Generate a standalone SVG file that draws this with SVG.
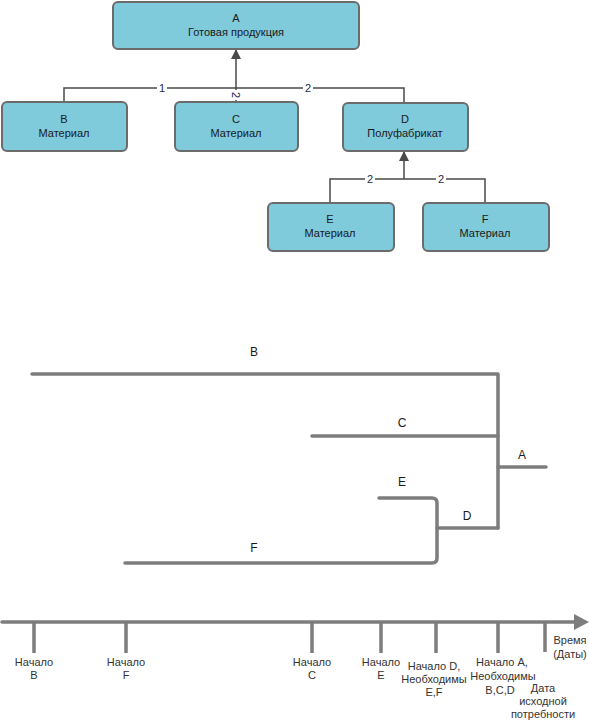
<svg xmlns="http://www.w3.org/2000/svg" width="589" height="720" viewBox="0 0 589 720">
<defs>
<style>
.box{fill:#7fcadb;stroke:#6b6b6b;stroke-width:2}
.nt{font-family:"Liberation Sans",Arial,sans-serif;font-size:11px;fill:#1a1a1a;text-anchor:middle}
.conn{stroke:#4a4a4a;stroke-width:1.5;fill:none}
.num{font-family:"Liberation Sans",Arial,sans-serif;font-size:11px;fill:#1b2a4a;text-anchor:middle}
.gl{stroke:#7d7d7d;stroke-width:3.5;fill:none;stroke-linecap:round;stroke-linejoin:round}
.gt{font-family:"Liberation Sans",Arial,sans-serif;font-size:12px;fill:#1a1a1a;text-anchor:middle}
.tl{font-family:"Liberation Sans",Arial,sans-serif;font-size:11px;fill:#333;text-anchor:middle}
</style>
<marker id="arr" markerWidth="10" markerHeight="10" refX="9" refY="5" orient="auto" markerUnits="userSpaceOnUse">
<path d="M0,0 L10,5 L0,10 z" fill="#4a4a4a"/>
</marker>
</defs>
<rect width="589" height="720" fill="#fff"/>
<g id="connectors">
<path class="conn" d="M64,102 V88 H404 V102"/>
<path class="conn" d="M236,102 V50" marker-end="url(#arr)"/>
<path class="conn" d="M330,203 V179 H485 V203"/>
<path class="conn" d="M404,179 V152" marker-end="url(#arr)"/>
<rect x="157" y="82" width="10" height="12" fill="#fff"/>
<text class="num" x="162" y="92">1</text>
<rect x="303" y="82" width="10" height="12" fill="#fff"/>
<text class="num" x="308" y="92">2</text>
<rect x="231" y="90" width="10" height="10" fill="#fff"/>
<text class="num" transform="translate(232,95) rotate(90)" x="0" y="0">2</text>
<rect x="365" y="173" width="10" height="12" fill="#fff"/>
<text class="num" x="370" y="183">2</text>
<rect x="436" y="173" width="10" height="12" fill="#fff"/>
<text class="num" x="441" y="183">2</text>
</g>
<g id="nodeA"><rect class="box" x="113" y="2" width="246" height="47" rx="5"/><text class="nt" x="236" y="22">A</text><text class="nt" x="236" y="36">Готовая продукция</text></g>
<g id="nodeB"><rect class="box" x="2" y="102" width="125" height="49" rx="5"/><text class="nt" x="64" y="123">B</text><text class="nt" x="64" y="137">Материал</text></g>
<g id="nodeC"><rect class="box" x="175" y="102" width="123" height="49" rx="5"/><text class="nt" x="236" y="123">C</text><text class="nt" x="236" y="137">Материал</text></g>
<g id="nodeD"><rect class="box" x="343" y="103" width="125" height="48" rx="5"/><text class="nt" x="405" y="123">D</text><text class="nt" x="405" y="137">Полуфабрикат</text></g>
<g id="nodeE"><rect class="box" x="268" y="203" width="126" height="48" rx="5"/><text class="nt" x="330" y="223">E</text><text class="nt" x="330" y="237">Материал</text></g>
<g id="nodeF"><rect class="box" x="423" y="203" width="126" height="48" rx="5"/><text class="nt" x="485" y="223">F</text><text class="nt" x="485" y="237">Материал</text></g>
<g id="gantt">
<path class="gl" d="M32,374 H498 V528"/>
<path class="gl" d="M312,436 H498"/>
<path class="gl" d="M498,467 H546"/>
<path class="gl" d="M437,528 H498"/>
<path class="gl" d="M379,498 H432 Q437,498 437,503 V558 Q437,563 432,563 H125"/>
<text class="gt" x="254" y="356">B</text>
<text class="gt" x="402" y="427">C</text>
<text class="gt" x="522" y="459">A</text>
<text class="gt" x="402" y="486">E</text>
<text class="gt" x="467" y="520">D</text>
<text class="gt" x="254" y="552">F</text>
</g>
<g id="timeline">
<path d="M2,622 H576" stroke="#7d7d7d" stroke-width="3.5" fill="none" stroke-linecap="round"/>
<path d="M574,614 L589,622 L574,630 z" fill="#7d7d7d"/>
<g stroke="#7d7d7d" stroke-width="3.5">
<line x1="34" y1="622" x2="34" y2="653"/>
<line x1="126" y1="622" x2="126" y2="653"/>
<line x1="312" y1="622" x2="312" y2="653"/>
<line x1="381" y1="622" x2="381" y2="653"/>
<line x1="436" y1="622" x2="436" y2="653"/>
<line x1="498" y1="622" x2="498" y2="653"/>
<line x1="545" y1="622" x2="545" y2="652"/>
</g>
<text class="tl" x="34" y="666">Начало</text><text class="tl" x="34" y="679">B</text>
<text class="tl" x="126" y="666">Начало</text><text class="tl" x="126" y="679">F</text>
<text class="tl" x="312" y="666">Начало</text><text class="tl" x="312" y="679">C</text>
<text class="tl" x="381" y="666">Начало</text><text class="tl" x="381" y="679">E</text>
<text class="tl" x="434" y="670">Начало D,</text><text class="tl" x="434" y="683">Необходимы</text><text class="tl" x="434" y="696">E,F</text>
<text class="tl" x="502" y="666">Начало A,</text><text class="tl" x="503" y="680">Необходимы</text><text class="tl" x="500" y="694">B,C,D</text>
<text class="tl" x="570" y="644">Время</text><text class="tl" x="570" y="658">(Даты)</text>
<text class="tl" x="543" y="692">Дата</text><text class="tl" x="543" y="705">исходной</text><text class="tl" x="543" y="718">потребности</text>
</g>
</svg>
